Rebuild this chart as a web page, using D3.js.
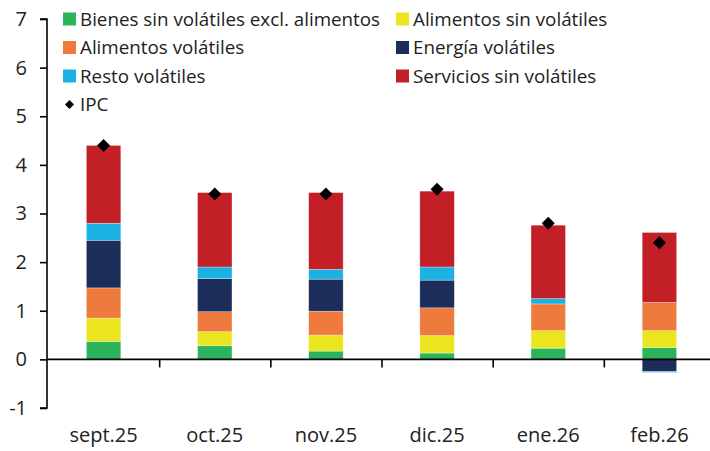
<!DOCTYPE html>
<html><head><meta charset="utf-8">
<script src="https://cdn.jsdelivr.net/npm/d3@7"></script>
<style>body{margin:0;background:#fff}svg{display:block;font-family:"Open Sans",sans-serif}</style>
</head><body><svg id="c" width="710" height="451"></svg>
<script>
const categories = ["sept.25","oct.25","nov.25","dic.25","ene.26","feb.26"];
const seriesNames = ["Bienes sin volátiles excl. alimentos","Alimentos sin volátiles","Alimentos volátiles","Energía volátiles","Resto volátiles","Servicios sin volátiles"];
const bienes     = [0.37, 0.28, 0.17, 0.13, 0.23, 0.24];
const alimSinVol = [0.48, 0.29, 0.33, 0.36, 0.36, 0.35];
const alimVol    = [0.62, 0.41, 0.49, 0.57, 0.55, 0.58];
const energia    = [0.98, 0.68, 0.66, 0.57, 0.00, -0.25];
const resto      = [0.35, 0.24, 0.20, 0.27, 0.11, -0.02];
const servicios  = [1.60, 1.53, 1.58, 1.56, 1.51, 1.44];
const ipc        = [4.4, 3.4, 3.4, 3.5, 2.8, 2.4];
const yTicks = [-1,0,1,2,3,4,5,6,7];
const colors = ["#2bb45c","#ebe520","#ee7a3d","#1d2d5b","#1bb1e3","#c31f26"];

const seriesData = [bienes, alimSinVol, alimVol, energia, resto, servicios];
const rows = categories.map((c,i)=>{const o={cat:c}; seriesNames.forEach((s,j)=>o[s]=seriesData[j][i]); return o;});

const svg = d3.select("#c");
const y = d3.scaleLinear().domain([-1,7]).range([408,19]);
const x = d3.scaleBand().domain(categories).range([48,715]).padding(0);
const bw = x.bandwidth()*0.31;

const stack = d3.stack().keys(seriesNames).offset(d3.stackOffsetDiverging);
const layers = stack(rows);

svg.append("g").selectAll("g").data(layers).join("g")
  .attr("fill",(d,i)=>colors[i])
  .selectAll("rect").data(d=>d).join("rect")
  .attr("x",d=>x(d.data.cat)+x.bandwidth()/2-bw/2)
  .attr("width",bw)
  .attr("y",d=>y(Math.max(d[0],d[1])))
  .attr("height",d=>Math.abs(y(d[0])-y(d[1])))
  .attr("stroke","#fff").attr("stroke-opacity",0.5).attr("stroke-width",0.6);

// y axis
const yAxis = svg.append("g").attr("transform","translate(47,0)")
  .call(d3.axisLeft(y).tickValues(yTicks).tickSize(7).tickPadding(13).tickFormat(d=>String(d)));
yAxis.select(".domain").attr("stroke","#000").attr("stroke-width",1.6).attr("d","M-7,"+y(7)+"H0V"+y(-1)+"H-7");
yAxis.selectAll(".tick line").attr("stroke","#000").attr("stroke-width",1.6);
yAxis.selectAll(".tick text").attr("font-size",20).attr("fill","#222").attr("font-family","Open Sans");

// zero line with boundary ticks
const boundaries = categories.slice(0,-1).map(c=>x(c)+x.step());
const xb = d3.scaleLinear().domain([47,710]).range([47,710]);
const zAxis = svg.append("g").attr("transform","translate(0,"+y(0)+")")
  .call(d3.axisBottom(xb).tickValues(boundaries).tickSize(8).tickFormat(""));
zAxis.select(".domain").attr("stroke","#000").attr("stroke-width",1.6).attr("d","M47,0H710");
zAxis.selectAll(".tick line").attr("stroke","#000").attr("stroke-width",1.6);

// category labels
const xAxis = svg.append("g").attr("transform","translate(0,428)")
  .call(d3.axisBottom(x).tickSize(0).tickPadding(0));
xAxis.select(".domain").remove();
xAxis.selectAll(".tick text").attr("font-size",20).attr("fill","#222").attr("font-family","Open Sans");

// IPC diamonds
svg.append("g").selectAll("path").data(ipc).join("path")
  .attr("d",d3.symbol().type(d3.symbolSquare).size(85))
  .attr("transform",(d,i)=>`translate(${x(categories[i])+x.bandwidth()/2},${y(d)}) rotate(45)`)
  .attr("fill","#000");

// legend
const legendItems = [
  {name:seriesNames[0],c:colors[0],col:0,row:0},
  {name:seriesNames[1],c:colors[1],col:1,row:0},
  {name:seriesNames[2],c:colors[2],col:0,row:1},
  {name:seriesNames[3],c:colors[3],col:1,row:1},
  {name:seriesNames[4],c:colors[4],col:0,row:2},
  {name:seriesNames[5],c:colors[5],col:1,row:2},
  {name:"IPC",c:null,col:0,row:3}
];
const colX = [63,396], rowY = [19,47.5,76,104.5];
const lg = svg.append("g").selectAll("g").data(legendItems).join("g")
  .attr("transform",d=>`translate(${colX[d.col]},${rowY[d.row]})`);
lg.filter(d=>d.c).append("rect").attr("x",0).attr("y",-6.5).attr("width",13).attr("height",13).attr("fill",d=>d.c);
lg.filter(d=>!d.c).append("path").attr("d",d3.symbol().type(d3.symbolSquare).size(40)).attr("transform","translate(6.5,0) rotate(45)").attr("fill","#000");
lg.append("text").attr("x",17).attr("dy","0.35em").attr("font-size",18.8).attr("fill","#222").text(d=>d.name);
</script></body></html>
